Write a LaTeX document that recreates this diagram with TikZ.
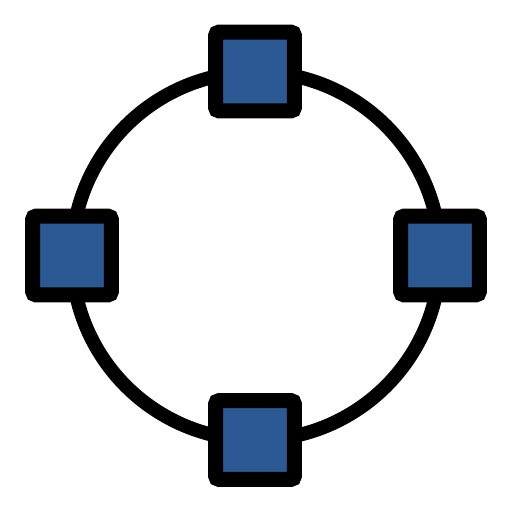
\documentclass[tikz,border=0pt]{standalone}
\usepackage{tikz}
\usetikzlibrary{positioning}
\definecolor{hubblue}{RGB}{42,89,148}

\begin{document}
\begin{tikzpicture}[x=0.02cm,y=-0.02cm,
		ring/.style={line width=7.9pt},
		hub/.style={draw=black, fill=hubblue, line width=8.6pt, rounded corners=2pt,
			minimum size=44.8pt, inner sep=0pt}]
			\useasboundingbox (0,0) rectangle (512,512);
			\coordinate (c) at (256,256);
			\draw[ring] (c) circle (184*0.02cm);
			\node[hub] (n) at (255,71.5) {};
			\node[hub] (w) at (72,255.5) {};
			\node[hub] (e) at (440,255.5) {};
			\node[hub] (s) at (255,440) {};
		\end{tikzpicture}
\end{document}
